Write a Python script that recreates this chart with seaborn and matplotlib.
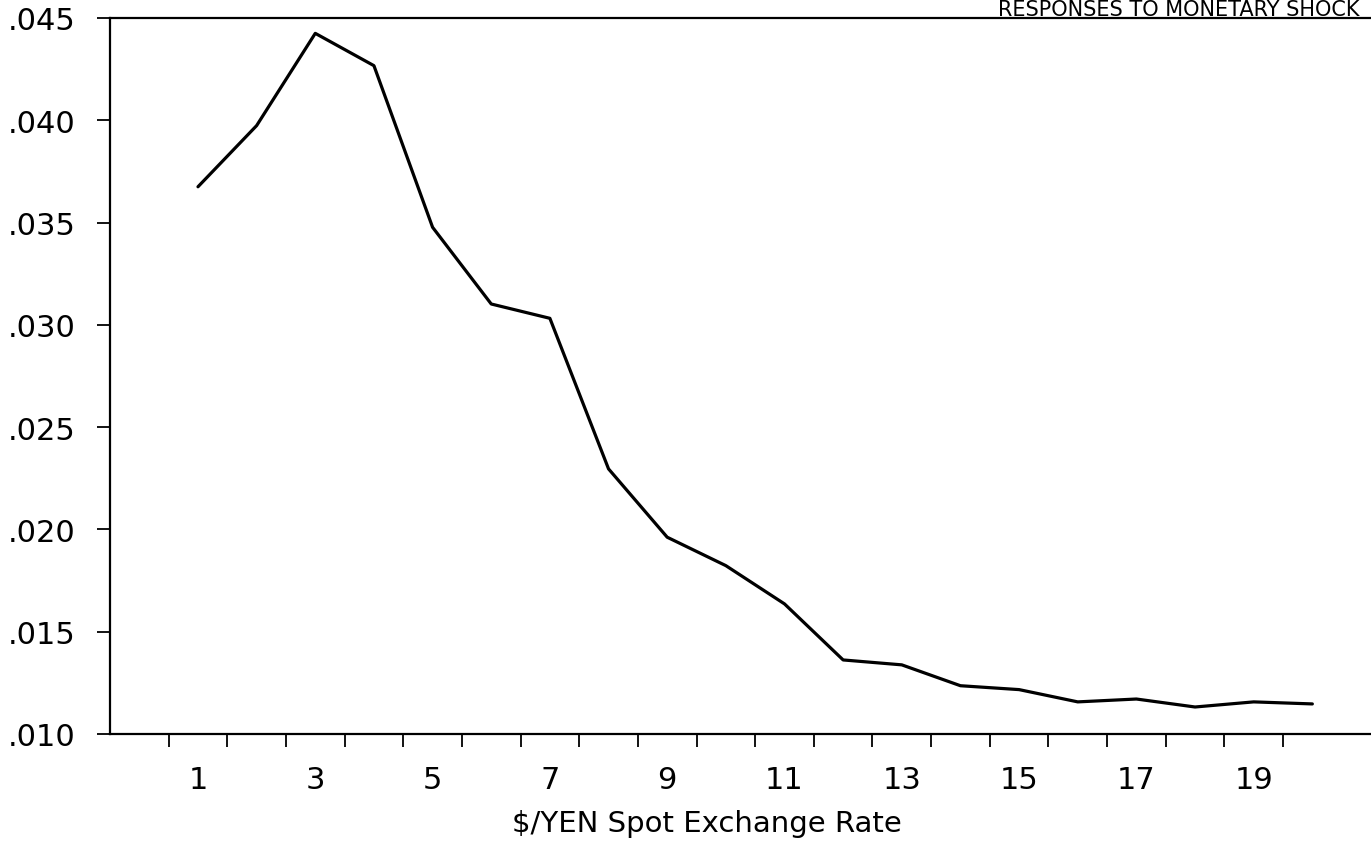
import matplotlib
matplotlib.use("Agg")
import matplotlib.pyplot as plt
import seaborn as sns
import numpy as np
import pandas as pd

# horizonte (períodos) e resposta
horizon = list(range(1, 21))
response = [0.03675, 0.03974, 0.04425, 0.04267, 0.03477, 0.03102, 0.03032,
            0.02296, 0.01962, 0.01823, 0.01636, 0.01362, 0.01338, 0.01236,
            0.01217, 0.01157, 0.01171, 0.01132, 0.01157, 0.01147]

x_labels = [1, 3, 5, 7, 9, 11, 13, 15, 17, 19]
y_ticks = [0.010, 0.015, 0.020, 0.025, 0.030, 0.035, 0.040, 0.045]
y_labels = [".010", ".015", ".020", ".025", ".030", ".035", ".040", ".045"]

title = "RESPONSES TO MONETARY SHOCK"
xlabel = "\\$/YEN Spot Exchange Rate"

sns.set_theme(style="white")
plt.rcParams['font.family'] = ['DejaVu Sans']

W, H = 1371, 853
fig = plt.figure(figsize=(W / 100, H / 100), dpi=100)
ax = fig.add_axes([110 / W, 1 - 735 / H, (W - 110) / W, (735 - 19) / H])

df = pd.DataFrame({'h': horizon, 'r': response})
sns.lineplot(data=df, x='h', y='r', ax=ax, color='black', linewidth=2.3)

ax.set_xlim(-0.5, 21)
ax.set_ylim(0.010, 0.045)

# rótulos nos inteiros ímpares, marcas nos meios-períodos
ax.set_xticks(x_labels)
ax.set_xticklabels([str(v) for v in x_labels], fontsize=22)
ax.set_xticks(np.arange(0.5, 20, 1.0), minor=True)
ax.tick_params(axis='x', which='major', length=0, pad=22, labelcolor='black')
ax.tick_params(axis='x', which='minor', length=9.5, width=1.3,
               direction='out', color='black', bottom=True)

ax.set_yticks(y_ticks)
ax.set_yticklabels(y_labels, fontsize=22)
ax.tick_params(axis='y', length=9.5, width=1.3, direction='out',
               color='black', pad=15, left=True, labelcolor='black')

for side in ['left', 'bottom', 'top']:
    ax.spines[side].set_color('black')
    ax.spines[side].set_linewidth(1.6)
ax.spines['right'].set_visible(False)

ax.set_xlabel(xlabel, fontsize=21, labelpad=2, color='black')
ax.xaxis.set_label_coords(0.473, -0.105)
ax.set_ylabel('')
ax.grid(False)

# título na faixa estreita acima do eixo (no original aparece cortado)
fig.text(1360 / W, 1 - 16 / H, title, ha='right', va='baseline',
         fontsize=15, color='black')

fig.savefig('out.png', dpi=100, facecolor='white')
plt.close(fig)
